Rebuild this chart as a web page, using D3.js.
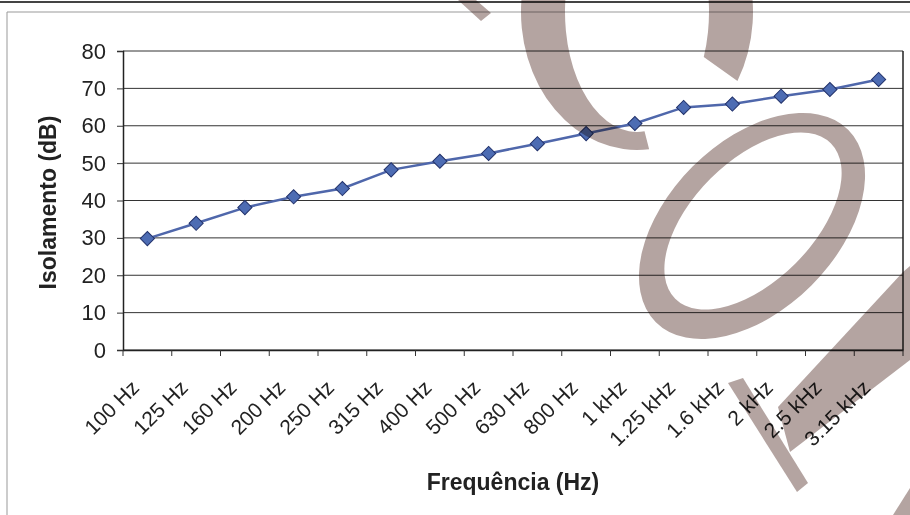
<!DOCTYPE html>
<html>
<head>
<meta charset="utf-8">
<script src="https://cdn.jsdelivr.net/npm/d3@7"></script>
<style>
  body { margin: 0; background: #fff; }
  svg { display: block; font-family: "Liberation Sans", Arial, sans-serif; }
</style>
</head>
<body>
<div id="chart"></div>
<script>
const categories = ["100 Hz", "125 Hz", "160 Hz", "200 Hz", "250 Hz", "315 Hz", "400 Hz", "500 Hz",
    "630 Hz", "800 Hz", "1 kHz", "1.25 kHz", "1.6 kHz", "2 kHz", "2.5 kHz", "3.15 kHz"];
const isolamento = [29.8, 33.9, 38.1, 41.0, 43.2, 48.2, 50.5, 52.6, 55.2, 57.9, 60.6, 64.9, 65.8, 67.9, 69.7, 72.4];
const yTicks = [0, 10, 20, 30, 40, 50, 60, 70, 80];

const W = 910, H = 515;
const plot = {left: 123, right: 903, top: 51, bottom: 350};

const svg = d3.select("#chart").append("svg")
    .attr("width", W)
    .attr("height", H);

// page edge + chart area frame
svg.append("line").attr("x1", 0).attr("x2", W).attr("y1", 2).attr("y2", 2)
    .attr("stroke", "#444").attr("stroke-width", 2);
svg.append("path").attr("d", `M7,${H} V12 H${W}`)
    .attr("fill", "none").attr("stroke", "#999").attr("stroke-width", 1);

const x = d3.scaleBand()
    .domain(categories)
    .range([plot.left, plot.right])
    .padding(0);

const y = d3.scaleLinear()
    .domain([0, 80])
    .range([plot.bottom, plot.top]);

// gridlines
svg.append("g")
    .selectAll("line")
    .data(yTicks)
    .join("line")
    .attr("x1", plot.left).attr("x2", plot.right)
    .attr("y1", d => y(d)).attr("y2", d => y(d))
    .attr("stroke", "#333").attr("stroke-width", 1);

// right border of plot area
svg.append("line")
    .attr("x1", plot.right).attr("x2", plot.right)
    .attr("y1", y(80)).attr("y2", y(0))
    .attr("stroke", "#222").attr("stroke-width", 1.5);

// y axis
const yAxis = svg.append("g")
    .attr("transform", `translate(${plot.left},0)`)
    .call(d3.axisLeft(y).tickValues(yTicks).tickSize(6).tickPadding(11));
yAxis.select(".domain").attr("stroke", "#222").attr("stroke-width", 1.5);
yAxis.selectAll(".tick line").attr("stroke", "#333");
yAxis.selectAll("text")
    .attr("font-size", 22)
    .attr("fill", "#222")
    .attr("font-family", "Liberation Sans, Arial, sans-serif");

// x axis: labels at category centres, ticks at category boundaries
const xAxis = svg.append("g")
    .attr("transform", `translate(0,${plot.bottom})`)
    .call(d3.axisBottom(x).tickSize(0).tickSizeOuter(0));
xAxis.select(".domain").attr("stroke", "#222").attr("stroke-width", 1.5);
xAxis.selectAll("text")
    .attr("font-size", 21)
    .attr("fill", "#222")
    .attr("font-family", "Liberation Sans, Arial, sans-serif")
    .attr("text-anchor", "end")
    .attr("dy", null)
    .attr("y", null)
    .attr("transform", "translate(-7,39) rotate(-45)");

const bounds = categories.map(c => x(c)).concat([x.range()[1]]);
xAxis.append("g")
    .selectAll("line")
    .data(bounds)
    .join("line")
    .attr("x1", d => d).attr("x2", d => d)
    .attr("y1", 0).attr("y2", 6)
    .attr("stroke", "#333");

// axis titles
svg.append("text")
    .attr("transform", `translate(56,${(plot.top + plot.bottom) / 2 + 2}) rotate(-90)`)
    .attr("text-anchor", "middle")
    .attr("font-size", 23)
    .attr("font-weight", "bold")
    .attr("fill", "#222")
    .text("Isolamento (dB)");

svg.append("text")
    .attr("x", 513)
    .attr("y", 490)
    .attr("text-anchor", "middle")
    .attr("font-size", 23)
    .attr("font-weight", "bold")
    .attr("fill", "#222")
    .text("Frequência (Hz)");

// series
const pts = categories.map((c, i) => ({c: c, v: isolamento[i]}));

svg.append("path")
    .datum(pts)
    .attr("fill", "none")
    .attr("stroke", "#4f67ab")
    .attr("stroke-width", 2.5)
    .attr("d", d3.line()
        .x(d => x(d.c) + x.bandwidth() / 2)
        .y(d => y(d.v)));

svg.append("g")
    .selectAll("path")
    .data(pts)
    .join("path")
    .attr("d", d3.symbol(d3.symbolSquare, 100))
    .attr("transform", d => `translate(${x(d.c) + x.bandwidth() / 2},${y(d.v)}) rotate(45)`)
    .attr("fill", "#4d6cb3")
    .attr("stroke", "#22326b")
    .attr("stroke-width", 1);

// scanned watermark (fragments of big letters), laid over the chart
const wm = svg.append("g")
    .attr("fill", "#b4a4a1")
    .attr("fill-rule", "evenodd")
    .style("mix-blend-mode", "multiply");

function pt(cx, cy, rx, ry, deg) {
    const t = deg * Math.PI / 180;
    return [cx + rx * Math.cos(t), cy + ry * Math.sin(t)];
}

// "C"
const cC = [637, 12];
const o0 = pt(cC[0], cC[1], 116, 138, 30), o1 = pt(cC[0], cC[1], 116, 138, -276);
const i1 = pt(cC[0], cC[1], 72, 120, -276), i0 = pt(cC[0], cC[1], 72, 120, 22);
wm.append("path")
    .attr("d", `M${o0} A116,138 0 1 0 ${o1} L${i1} A72,120 0 1 1 ${i0} Z`);

// "O" (tilted ellipse ring)
function ellipse(cx, cy, a, b, rot) {
    const r = rot * Math.PI / 180;
    const p = [cx + a * Math.cos(r), cy + a * Math.sin(r)];
    const q = [cx - a * Math.cos(r), cy - a * Math.sin(r)];
    return `M${p} A${a},${b} ${rot} 1 0 ${q} A${a},${b} ${rot} 1 0 ${p} Z`;
}
wm.append("path")
    .attr("d", ellipse(752, 226, 136, 84, -45) + ellipse(753, 221, 110, 60, -45));

// fragment of a third letter (serif + stem)
wm.append("path")
    .attr("d", "M728,383 L743,378 L808,483 L797,492 Z");
wm.append("path")
    .attr("d", "M778,407 L903,272 L910,266 L910,360 L790,452 Z");
wm.append("path")
    .attr("d", "M910,488 L910,515 L893,515 Z");

// accent stroke at the top
wm.append("path")
    .attr("d", "M458,0 L476,0 L491,13 L481,21 Z");
</script>
</body>
</html>
